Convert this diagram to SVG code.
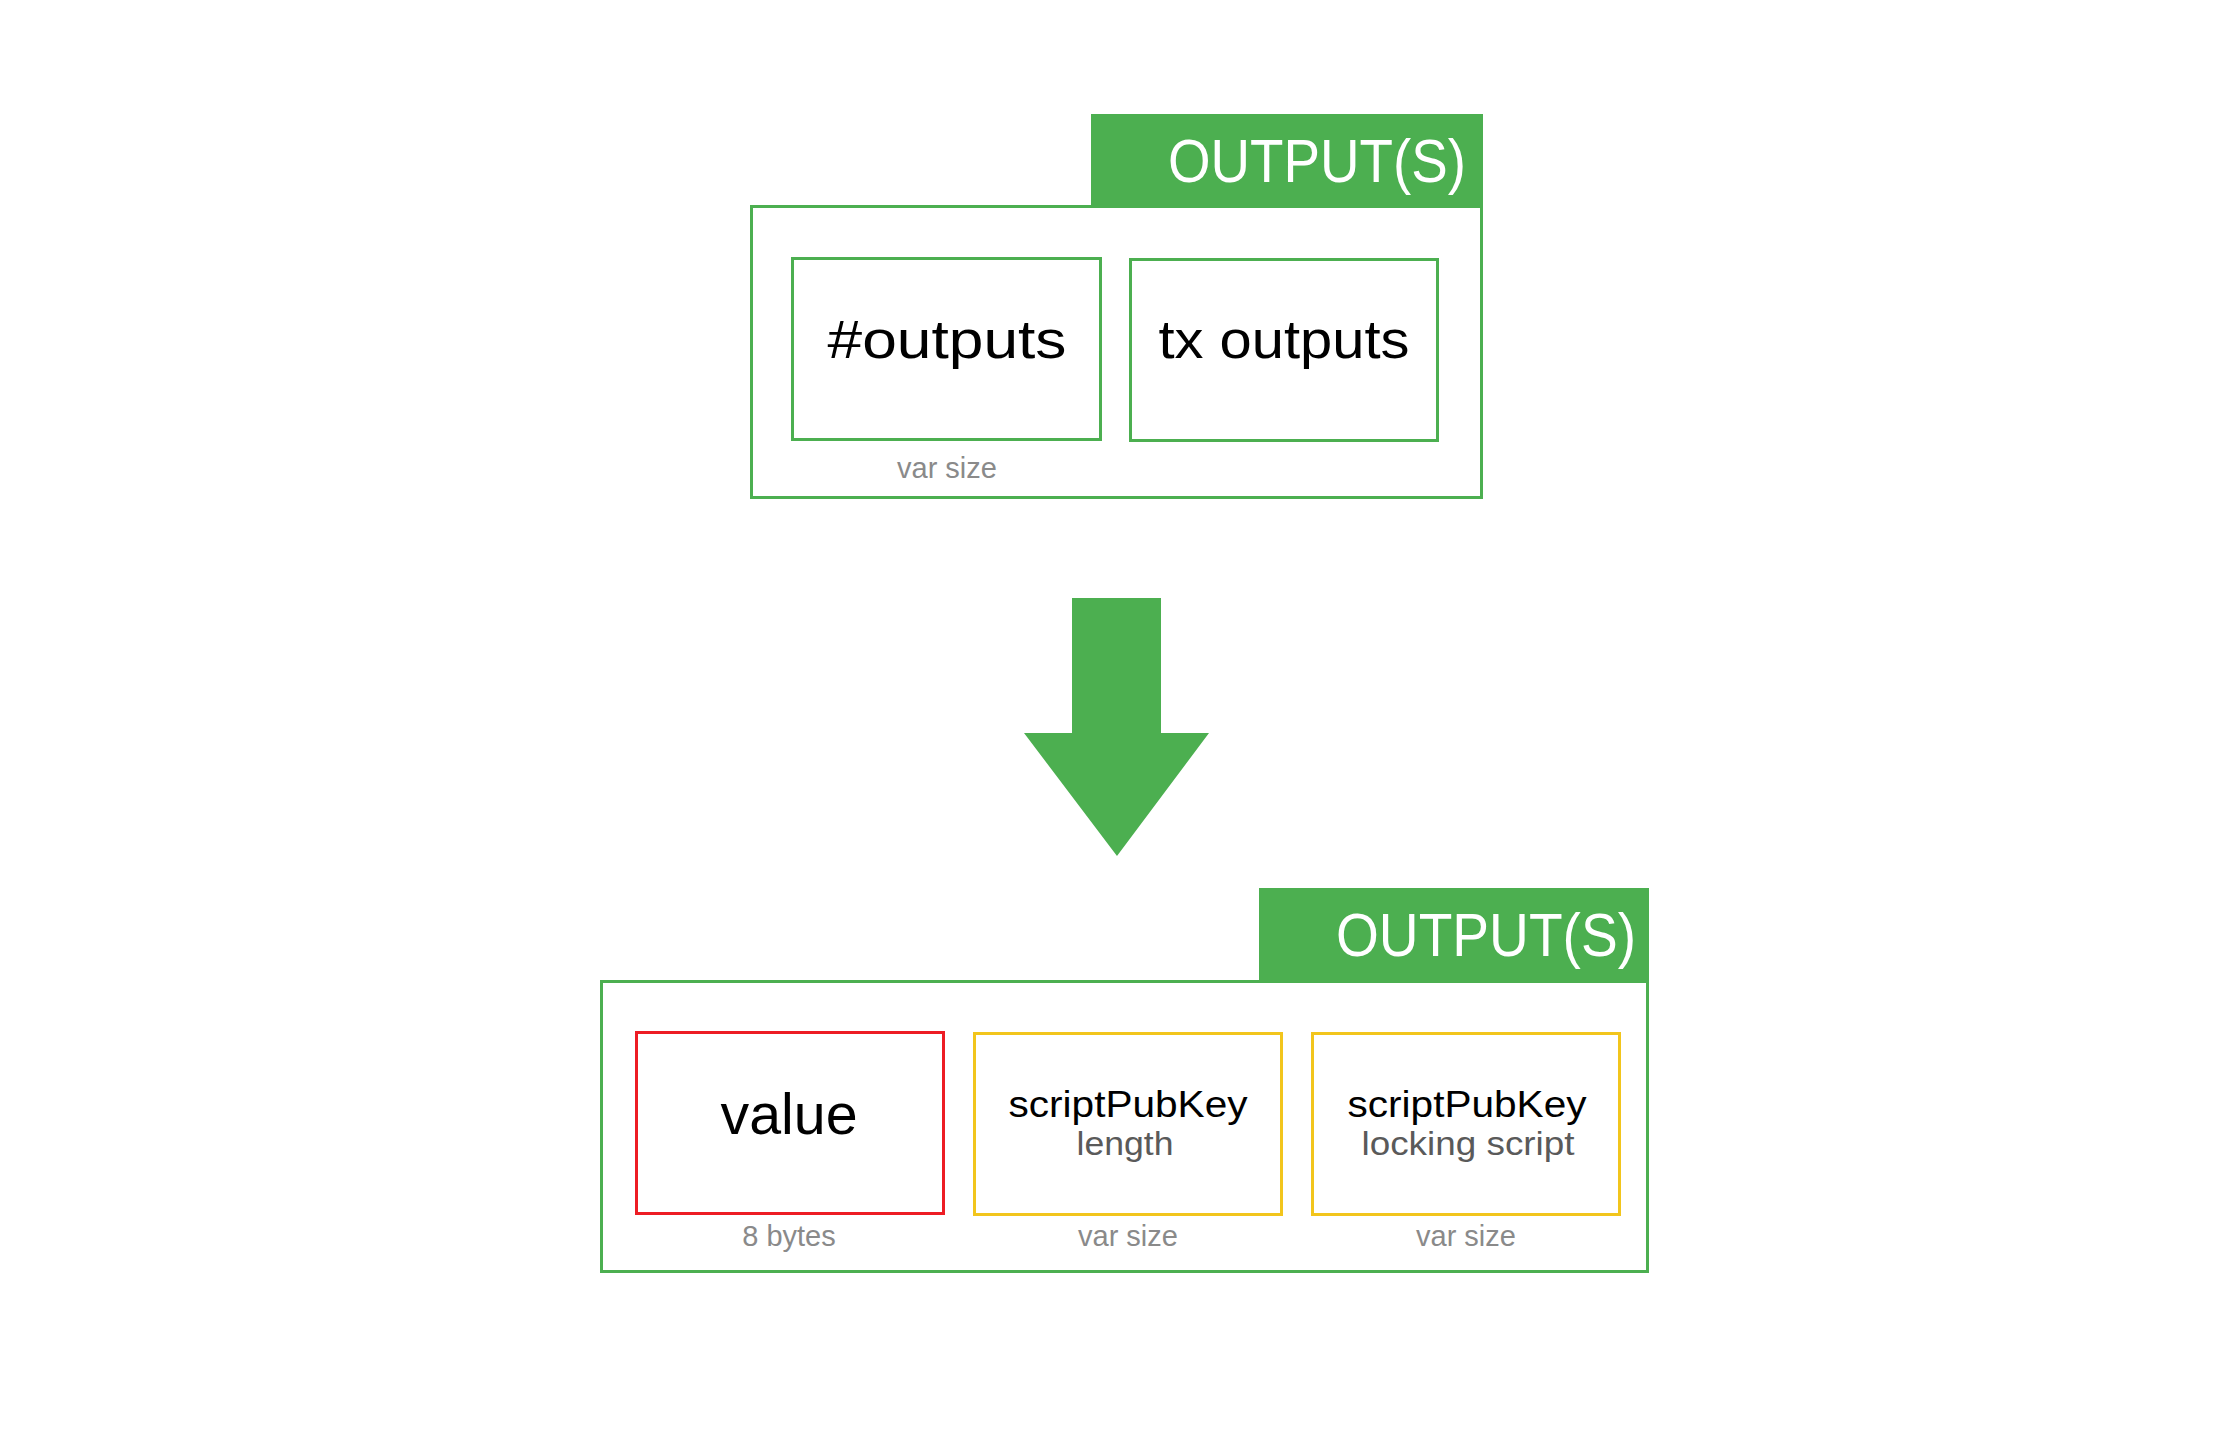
<svg xmlns="http://www.w3.org/2000/svg" width="2232" height="1453" viewBox="0 0 2232 1453">
<style>
.frame{fill:none;stroke:#4CAF50;stroke-width:3}
.gbox{fill:none;stroke:#4CAF50;stroke-width:3}
.rbox{fill:none;stroke:#ED1C24;stroke-width:3}
.ybox{fill:none;stroke:#F2C51C;stroke-width:3}
.hdr{fill:#4CAF50}
text{font-family:"Liberation Sans",Arial,sans-serif}
.title{font-size:61px;fill:#ffffff;text-anchor:end}
.big{font-size:54px;fill:#000000;text-anchor:middle}
.mid{font-size:36px;fill:#000000;text-anchor:middle}
.sub{font-size:34px;fill:#5a5a5a;text-anchor:middle}
.note{font-size:29px;fill:#8a8a8a;text-anchor:middle}
</style>
<rect width="2232" height="1453" fill="#ffffff"/>
<g id="top-outputs">
  <rect class="frame" x="751.5" y="206.5" width="730" height="291"/>
  <rect class="hdr" x="1091" y="114" width="392" height="94"/>
  <text class="title" x="1466" y="182" textLength="298" lengthAdjust="spacingAndGlyphs">OUTPUT(S)</text>
  <text class="note" x="947" y="478">var size</text>
</g>
<g id="node-num-outputs">
  <rect class="gbox" x="792.5" y="258.5" width="308" height="181"/>
  <text class="big" x="947" y="358" textLength="239" lengthAdjust="spacingAndGlyphs">#outputs</text>
</g>
<g id="node-tx-outputs">
  <rect class="gbox" x="1130.5" y="259.5" width="307" height="181"/>
  <text class="big" x="1284" y="358" textLength="251" lengthAdjust="spacingAndGlyphs">tx outputs</text>
</g>
<g id="connectors">
  <polygon fill="#4CAF50" points="1072,598 1161,598 1161,733 1209,733 1117,856 1024,733 1072,733"/>
</g>
<g id="bottom-outputs">
  <rect class="frame" x="601.5" y="981.5" width="1046" height="290"/>
  <rect class="hdr" x="1259" y="888" width="390" height="94"/>
  <text class="title" x="1636" y="956" textLength="300" lengthAdjust="spacingAndGlyphs">OUTPUT(S)</text>
</g>
<g id="node-value">
  <rect class="rbox" x="636.5" y="1032.5" width="307" height="181"/>
  <text class="big" x="789" y="1134" style="font-size:58px" textLength="137" lengthAdjust="spacingAndGlyphs">value</text>
  <text class="note" x="789" y="1246">8 bytes</text>
</g>
<g id="node-spk-length">
  <rect class="ybox" x="974.5" y="1033.5" width="307" height="181"/>
  <text class="mid" x="1128" y="1117" textLength="239" lengthAdjust="spacingAndGlyphs">scriptPubKey</text>
  <text class="sub" x="1125" y="1155" textLength="97" lengthAdjust="spacingAndGlyphs">length</text>
  <text class="note" x="1128" y="1246">var size</text>
</g>
<g id="node-spk-script">
  <rect class="ybox" x="1312.5" y="1033.5" width="307" height="181"/>
  <text class="mid" x="1467" y="1117" textLength="239" lengthAdjust="spacingAndGlyphs">scriptPubKey</text>
  <text class="sub" x="1468" y="1155" textLength="213" lengthAdjust="spacingAndGlyphs">locking script</text>
  <text class="note" x="1466" y="1246">var size</text>
</g>
</svg>
